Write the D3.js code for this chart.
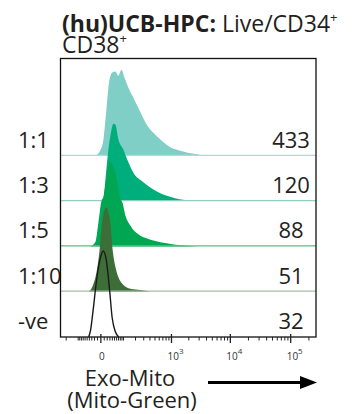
<!DOCTYPE html>
<html>
<head>
<meta charset="utf-8">
<script src="https://cdn.jsdelivr.net/npm/d3@7"></script>
<style>
  html, body { margin: 0; padding: 0; background: #fff; }
  svg { display: block; }
  text { font-family: "Open Sans", "Noto Sans", sans-serif; }
</style>
</head>
<body>
<div id="chart"></div>
<script>
// ---------------- DATA ----------------
const categories = ["1:1", "1:3", "1:5", "1:10", "-ve"];
const mfiValues = [433, 120, 88, 51, 32];

const fluor_1_1 = [-17, -1, 7.6, 17, 28, 40, 54, 69, 87, 106, 135, 189, 255, 356, 445, 629, 953, 1427, 2577, 4110];
const pct_1_1   = [0, 7, 19, 53, 88, 97, 98, 93, 100, 91, 79, 65, 51, 35, 28, 19, 10, 6, 2, 0];

const fluor_1_3 = [-28, -1, 7.6, 13.9, 20.8, 32, 45, 54, 69, 99, 127, 179, 295, 553, 1077, 2790];
const pct_1_3   = [0, 1, 3, 25, 50, 76, 90, 89, 72, 60, 48, 33, 22, 11, 4, 0];

const fluor_1_5 = [-35, -17, -7, 0.8, 7.6, 19.7, 30, 45, 64, 81, 93, 113, 152, 231, 372, 629, 1168, 2790];
const pct_1_5   = [0, 5, 28, 51, 58, 86, 99, 92, 75, 55, 51, 36, 24, 14, 8.5, 4.7, 2, 0];

const fluor_1_10 = [-43, -35, -24, -13, -4, 3, 10.7, 17, 24, 32, 40, 54, 69, 93, 152, 255, 407];
const pct_1_10   = [0, 2, 9, 23, 47, 79, 95, 98, 93, 79, 52, 29, 17, 9, 3.5, 2, 0];

const fluor_neg = [-43, -35, -25, -13, -3, 6.7, 17, 29, 39, 54, 71];
const pct_neg   = [0, 8, 31, 66, 89, 100, 89, 54, 23, 6, 0];

const majorTicks = [0, 1000, 10000, 100000];
const majorTickLabels = [["0", ""], ["10", "3"], ["10", "4"], ["10", "5"]];
const minorTicks = [-200, -100, -90, -80, -70, -60, -50, -40, -30, -20, -10,
  10, 20, 30, 40, 50, 60, 70, 80, 90, 100, 200, 300, 400, 500, 600, 700, 800, 900,
  2000, 3000, 4000, 5000, 6000, 7000, 8000, 9000,
  20000, 30000, 40000, 50000, 60000, 70000, 80000, 90000, 200000];

const xDomain = [-266, 262143];

// ---------------- STYLE ----------------
const fillColors = ["#80cfc6", "#00ae7c", "#00a651", "#3d6e38", "none"];
const baseColors = ["#a6ddd6", "#8fd0c2", "#62bb80", "#a9bda4", "none"];

const W = 358, H = 414;
const frame = { left: 60.5, right: 316, top: 58.5, bottom: 337 };
const rowStep = 45.3;
const peakHeight = 86;

const svg = d3.select("#chart").append("svg").attr("width", W).attr("height", H);

const x = d3.scaleSymlog().constant(73).domain(xDomain).range([frame.left, frame.right]);

const series = [
  { f: fluor_1_1, p: pct_1_1 },
  { f: fluor_1_3, p: pct_1_3 },
  { f: fluor_1_5, p: pct_1_5 },
  { f: fluor_1_10, p: pct_1_10 },
  { f: fluor_neg, p: pct_neg }
];

svg.append("clipPath").attr("id", "plotclip").append("rect")
  .attr("x", frame.left).attr("y", frame.top)
  .attr("width", frame.right - frame.left).attr("height", frame.bottom - frame.top);

const plot = svg.append("g").attr("clip-path", "url(#plotclip)");

series.forEach((s, i) => {
  const base = frame.bottom - (categories.length - 1 - i) * rowStep;
  const y = d3.scaleLinear().domain([0, 100]).range([base, base - peakHeight]);
  const pts = s.f.map((v, k) => [v, s.p[k]]);
  if (fillColors[i] !== "none") {
    const area = d3.area().x(d => x(d[0])).y0(base).y1(d => y(d[1])).curve(d3.curveMonotoneX);
    plot.append("path").attr("d", area(pts)).attr("fill", fillColors[i]);
    plot.append("line").attr("x1", frame.left).attr("x2", frame.right)
      .attr("y1", base - 0.5).attr("y2", base - 0.5)
      .attr("stroke", baseColors[i]).attr("stroke-width", 1.3);
  } else {
    const line = d3.line().x(d => x(d[0])).y(d => y(d[1])).curve(d3.curveMonotoneX);
    plot.append("path").attr("d", line(pts)).attr("fill", "none")
      .attr("stroke", "#1a1a1a").attr("stroke-width", 1.4);
  }
  svg.append("text").attr("x", 18).attr("y", base - 8)
    .attr("font-size", 22).attr("fill", "#231f20").text(categories[i]);
  svg.append("text").attr("x", 291).attr("y", base - 8)
    .attr("text-anchor", "middle")
    .attr("font-size", 22).attr("fill", "#231f20").text(mfiValues[i]);
});

// frame
svg.append("rect").attr("x", frame.left).attr("y", frame.top)
  .attr("width", frame.right - frame.left).attr("height", frame.bottom - frame.top)
  .attr("fill", "none").attr("stroke", "#111").attr("stroke-width", 1.3);

// axis ticks
const axisG = svg.append("g");
minorTicks.forEach(t => {
  axisG.append("line").attr("x1", x(t)).attr("x2", x(t))
    .attr("y1", frame.bottom).attr("y2", frame.bottom + 3.5)
    .attr("stroke", "#222").attr("stroke-width", 1);
});
majorTicks.forEach((t, i) => {
  axisG.append("line").attr("x1", x(t)).attr("x2", x(t))
    .attr("y1", frame.bottom - 3).attr("y2", frame.bottom + 6)
    .attr("stroke", "#222").attr("stroke-width", 1.3);
  const lab = axisG.append("text").attr("x", x(t) + (i === 0 ? 1 : 4)).attr("y", 360)
    .attr("text-anchor", "middle").attr("font-size", 10)
    .attr("font-family", "'Liberation Sans', Arial, sans-serif").attr("fill", "#333");
  lab.append("tspan").text(majorTickLabels[i][0]);
  if (majorTickLabels[i][1]) {
    lab.append("tspan").attr("dy", -6).attr("font-size", 8).text(majorTickLabels[i][1]);
  }
});

// title
const t1 = svg.append("text").attr("x", 62).attr("y", 32).attr("font-size", 23).attr("fill", "#231f20");
t1.append("tspan").attr("font-weight", "bold").text("(hu)UCB-HPC:");
t1.append("tspan").text(" Live/CD34");
t1.append("tspan").attr("dy", -10).attr("font-size", 13).text("+");
const t2 = svg.append("text").attr("x", 62).attr("y", 53).attr("font-size", 23).attr("fill", "#231f20");
t2.append("tspan").text("CD38");
t2.append("tspan").attr("dy", -10).attr("font-size", 13).text("+");

// axis title
svg.append("text").attr("x", 130).attr("y", 386).attr("text-anchor", "middle")
  .attr("font-size", 22).attr("fill", "#231f20").text("Exo-Mito");
svg.append("text").attr("x", 132).attr("y", 408).attr("text-anchor", "middle")
  .attr("font-size", 22).attr("fill", "#231f20").text("(Mito-Green)");

// arrow
svg.append("line").attr("x1", 208).attr("x2", 302).attr("y1", 382.5).attr("y2", 382.5)
  .attr("stroke", "#000").attr("stroke-width", 3);
svg.append("path").attr("d", "M300,376 L317,382.5 L300,389 Z").attr("fill", "#000");
</script>
</body>
</html>
